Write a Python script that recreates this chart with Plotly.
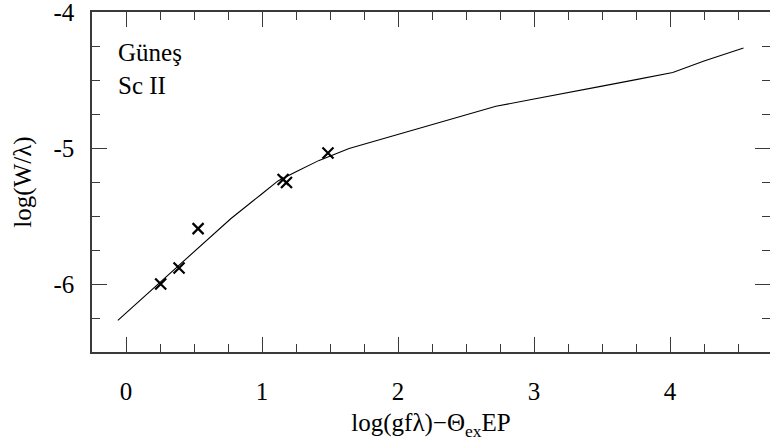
import plotly.graph_objects as go

# Observed points (crosses)
obs_x = [0.255, 0.39, 0.53, 1.155, 1.18, 1.485]
obs_y = [-6.00, -5.882, -5.593, -5.232, -5.254, -5.037]

# Theoretical curve of growth
curve_x = [-0.06, 0.25, 0.5, 0.77, 1.0, 1.12, 1.25, 1.42, 1.64, 1.86, 2.03, 2.25, 2.5,
           2.72, 3.0, 3.25, 3.5, 3.75, 4.02, 4.25, 4.54]
curve_y = [-6.267, -5.988, -5.763, -5.52, -5.336, -5.24, -5.175, -5.091, -5.004, -4.94,
           -4.89, -4.83, -4.757, -4.693, -4.64, -4.59, -4.545, -4.497, -4.445, -4.36, -4.265]

x_ticks = [0, 1, 2, 3, 4]
y_ticks = [-6, -5, -4]
y_ticktext = ["-6", "-5", "-4"]

FONT = '"Liberation Serif", "Times New Roman", Times, serif'
FS = 25
AX = "#3a3a3a"

fig = go.Figure()
fig.add_trace(go.Scatter(x=curve_x, y=curve_y, mode="lines",
                         line=dict(color="black", width=1.1), showlegend=False))
fig.add_trace(go.Scatter(x=obs_x, y=obs_y, mode="markers",
                         marker=dict(symbol="x-thin-open", size=11, color="black",
                                     line=dict(color="black", width=2.2)),
                         showlegend=False))
# carrier trace for the right-hand tick axis
fig.add_trace(go.Scatter(x=[None], y=[None], yaxis="y2", showlegend=False,
                         hoverinfo="skip"))

fig.add_annotation(x=0.0, y=0.955, xref="x domain", yref="y domain",
                   xanchor="left", yanchor="top", align="left", showarrow=False,
                   text="Güneş<br>Sc II", font=dict(family=FONT, size=FS, color="black"),
                   xshift=24, yshift=-10)

minor_style = dict(dtick=0.25, tick0=0, ticks="inside", ticklen=8, tickwidth=1.3,
                   tickcolor=AX, showgrid=False)

fig.update_layout(
    template="none",
    width=770, height=448,
    margin=dict(l=92, r=0, t=12, b=96),
    paper_bgcolor="white", plot_bgcolor="white",
    font=dict(family=FONT, size=FS, color="black"),
    xaxis=dict(range=[-0.25, 4.735], tickvals=x_ticks, ticks="inside", ticklen=15,
               tickwidth=1.3, tickcolor=AX, showline=True, linecolor=AX, linewidth=1.5,
               mirror="ticks", showgrid=False, zeroline=False, automargin=False,
               minor=minor_style, ticklabelstandoff=16, ticklabeloverflow="allow",
               tickfont=dict(family=FONT, size=FS, color="black"),
               title=dict(text="log(gfλ)−Θ<sub>ex</sub>EP", standoff=10,
                          font=dict(family=FONT, size=FS, color="black"))),
    yaxis=dict(range=[-6.5, -4], tickvals=y_ticks, ticktext=y_ticktext, ticks="inside",
               ticklen=15, tickwidth=1.3, tickcolor=AX, showline=True, linecolor=AX,
               linewidth=1.5, mirror=False, showgrid=False, zeroline=False,
               automargin=False, minor=minor_style, ticklabelstandoff=11,
               ticklabeloverflow="allow",
               tickfont=dict(family=FONT, size=FS, color="black"),
               title=dict(text="log(W/λ)", standoff=15,
                          font=dict(family=FONT, size=FS, color="black"))),
    yaxis2=dict(range=[-6.5, -4], overlaying="y", side="right", tickvals=y_ticks,
                showticklabels=False, ticks="inside", ticklen=15, tickwidth=1.3,
                tickcolor=AX, showline=False, showgrid=False, zeroline=False,
                automargin=False, minor=minor_style),
)

fig.write_html(
    "out.html",
    config={"displayModeBar": False},
    post_script="document.body.style.margin='0';document.body.style.overflow='hidden';",
)
